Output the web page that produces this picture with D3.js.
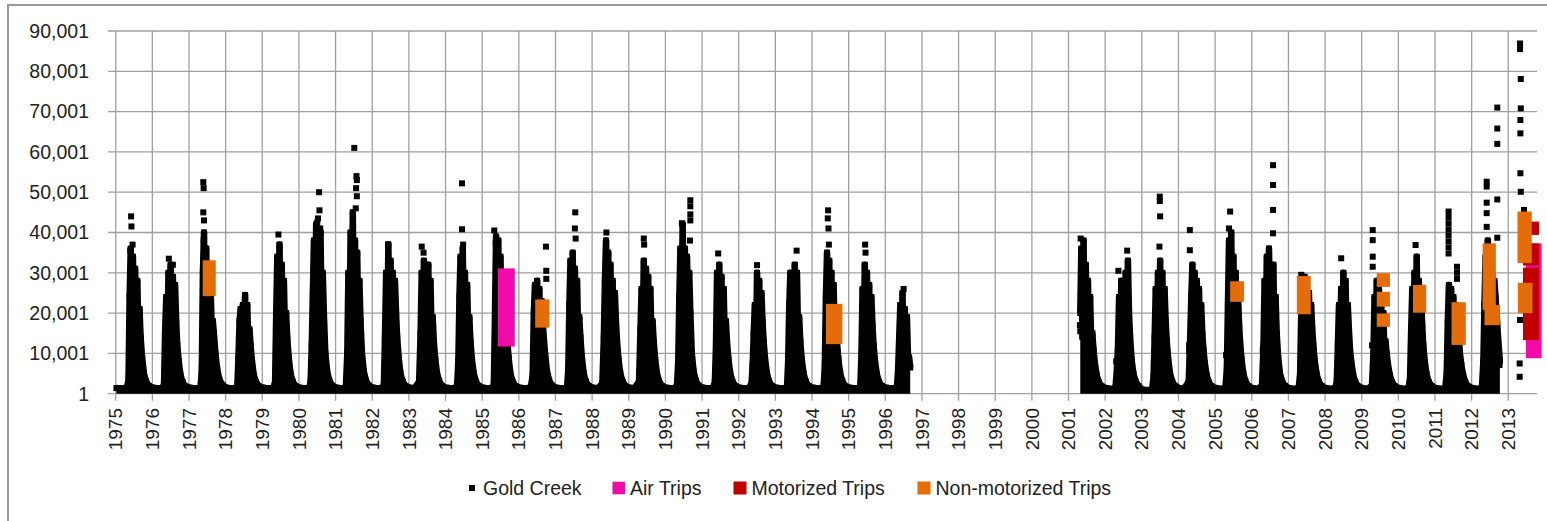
<!DOCTYPE html>
<html>
<head>
<meta charset="utf-8">
<script src="https://cdn.jsdelivr.net/npm/d3@7"></script>
<style>
  body { margin: 0; background: #fff; }
  text { font-family: "Liberation Sans", Arial, sans-serif; fill: #222; }
</style>
</head>
<body>
<div id="chart"></div>
<script>
// fractions of the year at which each Gold Creek value is read
var dayFrac = [0.02,0.15,0.28,0.32,0.35,0.38,0.41,0.44,0.47,0.50,0.53,0.56,0.59,0.62,0.65,0.68,0.72,0.77,0.83,0.91];

var flowYears = [1975,1976,1977,1978,1979,1980,1981,1982,1983,1984,1985,1986,1987,1988,1989,1990,1991,1992,1993,1994,1995,1996,
                 2001,2002,2003,2004,2005,2006,2007,2008,2009,2010,2011,2012];

// Gold Creek flows, one row per year (null = no record)
var goldCreek = [
  [1400,1300,1400,1800,3500,24000,36000,15000,34000,14000,31000,16000,28000,15000,21000,14000,9000,5000,3000,1900],
  [1500,1300,1400,2500,16000,24000,12000,30000,13000,32000,12000,29000,14000,27000,18000,12000,8000,4500,2800,1800],
  [1500,1300,1400,2000,6000,30000,40000,16000,36000,14000,30000,15000,26000,16000,18000,15000,10000,6000,3500,2200],
  [1500,1300,1400,2000,9000,18000,21000,8000,22000,10000,24500,11000,22000,12000,16000,12000,8000,4500,2800,1800],
  [1500,1300,1400,1800,3000,20000,34000,14000,37000,15000,32000,14000,28000,14000,20000,14000,9000,5000,3000,1900],
  [1500,1300,1400,3000,12000,25000,38000,16000,42000,16000,36000,16000,40000,16000,30000,20000,10000,5500,3200,2000],
  [1500,1300,1500,10000,30000,15000,40000,16000,45000,14000,38000,14000,35000,15000,28000,18000,10000,5500,3200,2000],
  [1500,1300,1400,2500,15000,30000,14000,37000,15000,33000,13000,30000,14000,28000,20000,14000,9000,5000,3000,1900],
  [1500,1300,3000,15000,30000,13000,33000,13000,30000,15000,32000,12000,28000,14000,19000,13000,8500,5000,3000,1900],
  [1500,1300,1400,2500,8000,24000,34000,14000,36000,15000,30000,13000,27000,15000,19000,13000,8500,5000,3000,1900],
  [1500,1300,1400,2500,20000,39000,20000,38000,18000,34000,16000,30000,15000,26000,19000,14000,9000,5000,3000,1900],
  [1500,1300,1400,1600,2500,5000,20000,27000,13000,28000,14000,26000,13000,23000,18000,14000,9500,5500,3200,2000],
  [1500,1300,1400,2000,6000,22000,33000,14000,35000,15000,31000,14000,28000,14000,19000,14000,9000,5000,3000,1900],
  [1500,1300,2500,14000,28000,38000,16000,35000,15000,32000,14000,28000,14000,25000,18000,13000,8500,5000,3000,1900],
  [1500,1300,3000,16000,26000,14000,33000,15000,31000,13000,29000,14000,26000,13000,18000,13000,8500,5000,3000,1900],
  [1500,1300,1400,2500,8000,24000,36000,16000,42000,17000,36000,15000,34000,16000,30000,20000,10000,5500,3200,2000],
  [1500,1300,1400,1800,3000,12000,30000,12000,32000,13000,29000,12000,26000,13000,18000,13000,8500,5000,3000,1900],
  [1500,1300,1400,1800,2500,7000,15000,22000,10000,30000,12000,28000,13000,25000,18000,13000,8500,5000,3000,1900],
  [1500,1300,1400,2000,8000,22000,30000,14000,28000,15000,32000,14000,30000,14000,19000,13000,8500,5000,3000,1900],
  [1500,1300,1400,2000,7000,24000,35000,14000,33000,15000,30000,13000,27000,14000,18000,13000,8500,5000,3000,1900],
  [1500,1300,1400,2000,10000,26000,13000,32000,15000,30000,14000,27000,13000,24000,17000,12000,8000,4800,2900,1900],
  [1500,1300,1400,1800,6000,14000,22000,10000,25000,9000,21000,10000,19000,9000,9000,6500,null,null,null,null],
  [null,null,null,20000,36000,14000,38000,15000,32000,15000,28000,13000,24000,12000,15000,11000,7500,4500,2800,1800],
  [1400,1200,1400,6000,12000,24000,10000,28000,12000,26000,10000,30000,14000,33000,20000,14000,8500,5000,3000,1900],
  [1000,900,1000,4000,14000,26000,13000,30000,15000,33000,14000,30000,13000,26000,18000,13000,8500,5000,3000,1900],
  [1400,1200,3000,14000,24000,32000,13000,30000,14000,28000,12000,26000,13000,22000,15000,11000,7500,4500,2800,1800],
  [1400,1200,1400,6000,22000,38000,16000,40000,15000,34000,14000,30000,14000,26000,18000,13000,8500,5000,3000,1900],
  [1400,1200,2000,12000,28000,12000,34000,15000,36000,14000,30000,11000,32000,14000,24000,15000,9000,5000,3000,1900],
  [1400,1200,1400,5000,20000,27000,13000,29000,14000,27000,13000,25000,13000,22000,16000,12000,8000,4800,2900,1900],
  [1400,1200,1400,3000,12000,22000,11000,26000,14000,30000,13000,28000,12000,22000,16000,11000,7500,4500,2800,1800],
  [1400,1200,2000,10000,24000,12000,28000,14000,26000,12000,24000,11000,20000,10000,13000,10000,7000,4500,2800,1800],
  [1400,1200,1400,4000,16000,26000,13000,30000,15000,34000,14000,28000,13000,24000,17000,12000,8000,4800,2900,1900],
  [1400,1200,1400,5000,18000,27000,11000,26000,13000,24000,12000,22000,11000,18000,14000,10000,7000,4500,2800,1800],
  [1400,1200,1400,8000,22000,34000,16000,38000,15000,32000,16000,30000,15000,28000,24000,20000,14000,8000,null,null]
];

// isolated high / low Gold Creek days: [date in years, flow]
var goldPeaks = [
  [1975.42,44000],[1975.43,41500],[1975.46,37000],[1975.40,35500],
  [1976.45,33500],[1976.50,31000],[1976.56,32000],
  [1977.39,52500],[1977.40,51000],[1977.39,45000],[1977.41,43000],[1977.40,38000],
  [1979.44,39500],[1979.47,36000],
  [1980.55,50000],[1980.56,45500],[1980.52,43500],[1980.50,42500],[1980.58,41000],
  [1981.51,61000],[1981.57,54000],[1981.58,53000],[1981.56,51000],[1981.58,49000],[1981.55,46000],
  [1982.43,37000],
  [1983.35,36500],[1983.40,35000],
  [1984.45,52200],[1984.45,40800],[1984.48,37000],
  [1985.36,8300],[1985.33,40500],[1985.37,37500],
  [1986.74,36500],[1986.75,30500],[1986.75,28500],
  [1987.54,45000],[1987.53,41000],[1987.55,38500],
  [1988.39,40000],
  [1989.41,38500],[1989.42,37000],
  [1990.68,48000],[1990.68,46500],[1990.68,44500],[1990.68,43000],[1990.67,38000],[1990.45,42300],
  [1991.44,34800],
  [1992.50,31900],[1992.41,10000],[1992.42,7500],
  [1993.58,35500],
  [1994.44,45500],[1994.43,43500],[1994.45,41000],[1994.46,37000],
  [1995.45,37000],[1995.46,35000],
  [1996.50,26000],
  [2001.33,38500],[2001.31,17000],[2001.32,15500],
  [2002.60,35500],[2002.36,30500],[2002.30,8000],
  [2003.49,48900],[2003.49,47800],[2003.50,44000],[2003.48,36500],
  [2004.31,40600],[2004.31,35600],[2004.29,12000],[2004.29,10500],
  [2005.41,45200],[2005.30,9600],[2005.38,41000],
  [2006.58,56700],[2006.58,51800],[2006.58,45600],[2006.58,39800],[2006.30,10800],[2006.32,9000],
  [2007.35,29500],
  [2008.44,33600],
  [2009.30,40600],[2009.30,38100],[2009.30,34000],[2009.30,31500],[2009.28,12000],
  [2010.47,36900],
  [2011.37,45200],[2011.37,43800],[2011.37,42300],[2011.37,40800],[2011.37,39300],[2011.37,37800],[2011.37,36300],[2011.37,34800],
  [2011.60,31500],[2011.60,30000],[2011.60,28500],
  [2012.41,52600],[2012.41,51400],[2012.41,47400],[2012.41,44800],[2012.41,41400],
  [2012.70,71000],[2012.70,65800],[2012.70,62000],[2012.70,48200],[2012.70,38700],[2012.76,7100],
  [2013.32,86900],[2013.32,85500],[2013.34,78100],[2013.34,70800],[2013.33,67900],[2013.33,64600],
  [2013.33,54700],[2013.34,50100],[2013.43,45600],[2013.32,18300],[2013.31,7500],[2013.31,4200]
];

// trip periods: [start, end, low flow, high flow]
var airTrips = [[1985.425,1985.89,11700,31100],[2013.48,2013.91,8800,37300]];
var motorizedTrips = [[2013.52,2013.84,39400,42700],[2013.40,2013.84,31800,37300],[2013.40,2013.84,13300,31300]];
var nonMotorizedTrips = [
  [1977.374,1977.73,24200,33100],[1986.447,1986.836,16400,23400],[1994.38,1994.83,12300,22300],
  [2005.41,2005.79,22800,27900],[2007.23,2007.61,19700,29200],
  [2009.41,2009.77,26500,29900],[2009.41,2009.77,21600,25300],[2009.41,2009.77,16600,19900],
  [2010.40,2010.76,20100,27000],[2011.45,2011.84,12100,22700],
  [2012.30,2012.66,20800,37300],[2012.35,2012.77,17000,22000],
  [2013.25,2013.64,32400,45200],[2013.26,2013.66,20000,27500]
];

var yearTicks = d3.range(1975, 2014);
var flowTicks = [1,10001,20001,30001,40001,50001,60001,70001,80001,90001];

var W = 1547, H = 521;
var svg = d3.select("#chart").append("svg").attr("width", W).attr("height", H);

svg.append("rect").attr("width", W).attr("height", H).attr("fill", "#fff");
// outer frame
svg.append("rect").attr("x", 8).attr("y", 5).attr("width", W + 10).attr("height", H + 10)
  .attr("fill", "none").attr("stroke", "#9a9a9a").attr("stroke-width", 2);

var x = d3.scaleLinear().domain([1975, 2013]).range([115.7, 1508.3]);
var y = d3.scaleLinear().domain([1, 90001]).range([393.7, 31]);
var plotRight = 1537;

var grid = svg.append("g").attr("stroke", "#a0a0a0").attr("stroke-width", 1.3);
grid.selectAll("line.h").data(flowTicks).enter().append("line")
  .attr("x1", 108).attr("x2", plotRight)
  .attr("y1", function(d){ return y(d); }).attr("y2", function(d){ return y(d); });
grid.selectAll("line.v").data(yearTicks).enter().append("line")
  .attr("x1", function(d){ return x(d); }).attr("x2", function(d){ return x(d); })
  .attr("y1", y(90001)).attr("y2", y(1) + 7);

// y labels
svg.selectAll("text.ylab").data(flowTicks).enter().append("text")
  .attr("x", 89).attr("y", function(d){ return y(d); })
  .attr("dy", "0.35em").attr("text-anchor", "end")
  .style("font-size", "19.5px")
  .text(function(d){ return d3.format(",")(d); });

// x labels rotated
svg.selectAll("text.xlab").data(yearTicks).enter().append("text")
  .attr("transform", function(d){ return "translate(" + x(d) + "," + 408 + ") rotate(-90)"; })
  .attr("dy", "0.35em").attr("text-anchor", "end")
  .style("font-size", "19px")
  .text(function(d){ return d; });

// build Gold Creek series
var pts = [];
flowYears.forEach(function(yr, i) {
  goldCreek[i].forEach(function(v, j) {
    pts.push({t: yr + dayFrac[j], v: v});
  });
  if (yr === 1996) pts.push({t: null, v: null});
});

var isDef = function(d){ return d.v != null; };

// daily markers are so dense they merge into solid humps
var area = d3.area()
  .defined(isDef)
  .x(function(d){ return x(d.t); })
  .y0(y(1))
  .y1(function(d){ return y(d.v); });
svg.append("path").datum(pts).attr("d", area).attr("fill", "#000");

var line = d3.line()
  .defined(isDef)
  .x(function(d){ return x(d.t); })
  .y(function(d){ return y(d.v); });
svg.append("path").datum(pts).attr("d", line)
  .attr("fill", "none").attr("stroke", "#000").attr("stroke-width", 6.5)
  .attr("stroke-linejoin", "round");

var sq = 6;
svg.selectAll("rect.gc").data(pts.filter(isDef)).enter().append("rect")
  .attr("x", function(d){ return x(d.t) - sq/2; }).attr("y", function(d){ return y(d.v) - sq/2; })
  .attr("width", sq).attr("height", sq).attr("fill", "#000");

svg.selectAll("rect.pk").data(goldPeaks).enter().append("rect")
  .attr("x", function(d){ return x(d[0]) - sq/2; }).attr("y", function(d){ return y(d[1]) - sq/2; })
  .attr("width", sq).attr("height", sq).attr("fill", "#000");

function trips(data, color) {
  svg.append("g").selectAll("rect").data(data).enter().append("rect")
    .attr("x", function(d){ return x(d[0]); })
    .attr("y", function(d){ return y(d[3]); })
    .attr("width", function(d){ return x(d[1]) - x(d[0]); })
    .attr("height", function(d){ return y(d[2]) - y(d[3]); })
    .attr("fill", color);
}
trips(airTrips, "#f00ca8");
trips(motorizedTrips, "#c00000");
trips(nonMotorizedTrips, "#e46c0a");

// legend
var legend = [
  {name: "Gold Creek", color: "#000", size: 6, x: 469},
  {name: "Air Trips", color: "#f00ca8", size: 12.5, x: 612.5},
  {name: "Motorized Trips", color: "#c00000", size: 13, x: 733.5},
  {name: "Non-motorized Trips", color: "#e46c0a", size: 13, x: 917.5}
];
var lg = svg.append("g").selectAll("g").data(legend).enter().append("g");
lg.append("rect")
  .attr("x", function(d){ return d.x; }).attr("y", function(d){ return 488 - d.size/2; })
  .attr("width", function(d){ return d.size; }).attr("height", function(d){ return d.size; })
  .attr("fill", function(d){ return d.color; });
lg.append("text")
  .attr("x", function(d){ return d.x + d.size + (d.size < 8 ? 8 : 5); })
  .attr("y", 488).attr("dy", "0.35em")
  .style("font-size", "19.5px")
  .text(function(d){ return d.name; });
</script>
</body>
</html>
